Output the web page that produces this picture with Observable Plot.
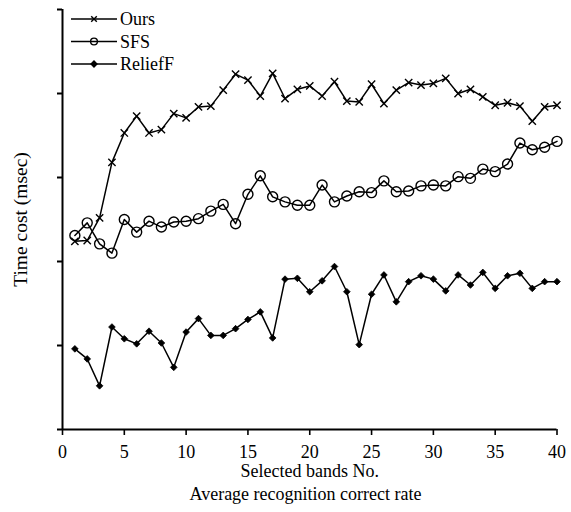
<!DOCTYPE html>
<html>
<head>
<meta charset="utf-8">
<script src="https://cdn.jsdelivr.net/npm/d3@7"></script>
<script src="https://cdn.jsdelivr.net/npm/@observablehq/plot@0.6"></script>
<style>
  html, body { margin: 0; padding: 0; background: white; }
  #wrap { position: relative; width: 571px; height: 512px; font-family: "Liberation Serif", "Times New Roman", serif; }
  #wrap svg text { font-family: "Liberation Serif", "Times New Roman", serif; }
  #caption { position: absolute; left: 40px; width: 531px; top: 484px; text-align: center; font-size: 18px; line-height: 20px; color: black; }
  #legend { position: absolute; left: 0; top: 0; }
</style>
</head>
<body>
<div id="wrap"></div>
<script>
const bands = [1,2,3,4,5,6,7,8,9,10,11,12,13,14,15,16,17,18,19,20,21,22,23,24,25,26,27,28,29,30,31,32,33,34,35,36,37,38,39,40];
const ours = [2.24,2.25,2.52,3.18,3.53,3.73,3.53,3.57,3.76,3.71,3.84,3.85,4.04,4.23,4.16,3.97,4.24,3.94,4.05,4.09,3.97,4.14,3.91,3.90,4.11,3.88,4.04,4.13,4.10,4.12,4.18,4.00,4.05,3.96,3.86,3.89,3.85,3.67,3.84,3.86];
const sfs = [2.31,2.46,2.21,2.10,2.50,2.35,2.48,2.41,2.47,2.48,2.51,2.60,2.68,2.45,2.80,3.02,2.77,2.71,2.67,2.67,2.91,2.71,2.78,2.83,2.82,2.96,2.83,2.84,2.90,2.91,2.90,3.01,2.99,3.10,3.07,3.16,3.41,3.33,3.36,3.43];
const relieff = [0.96,0.84,0.52,1.22,1.08,1.02,1.17,1.03,0.74,1.16,1.32,1.12,1.12,1.20,1.31,1.40,1.09,1.79,1.80,1.64,1.77,1.94,1.64,1.01,1.61,1.84,1.52,1.76,1.83,1.79,1.65,1.84,1.72,1.87,1.68,1.83,1.86,1.68,1.76,1.76];
const seriesNames = ["Ours", "SFS", "ReliefF"];
const xTicks = [0,5,10,15,20,25,30,35,40];
const yTicks = [0,1,2,3,4,5];
const xLabel = "Selected bands No.";
const yLabel = "Time cost (msec)";
const captionText = "Average recognition correct rate";

const toRows = (vals) => bands.map((b, i) => ({band: b, value: vals[i]}));
const oursRows = toRows(ours), sfsRows = toRows(sfs), relRows = toRows(relieff);

const FONT = "'Liberation Serif', 'Times New Roman', serif";
const plot = Plot.plot({
  width: 571,
  height: 482,
  marginLeft: 62,
  marginRight: 14.5,
  marginTop: 9,
  marginBottom: 53,
  style: {fontFamily: FONT, fontSize: "18px", background: "white", color: "black", overflow: "visible"},
  x: {domain: [0, 40], label: null},
  y: {domain: [0, 5], label: null},
  marks: [
    Plot.axisX({ticks: xTicks, tickSize: 6, tickPadding: 10, label: null, strokeWidth: 1.6, fontSize: 18}),
    Plot.axisY({ticks: yTicks, tickSize: 5, tickFormat: () => "", label: null, strokeWidth: 2}),
    Plot.ruleX([0], {stroke: "black", strokeWidth: 2}),
    Plot.ruleY([0], {stroke: "black", strokeWidth: 2}),
    Plot.line(oursRows, {x: "band", y: "value", stroke: "black", strokeWidth: 1.5}),
    Plot.dot(oursRows, {x: "band", y: "value", symbol: "times", r: 3.4, stroke: "black", strokeWidth: 1.4}),
    Plot.line(sfsRows, {x: "band", y: "value", stroke: "black", strokeWidth: 1.5}),
    Plot.dot(sfsRows, {x: "band", y: "value", symbol: "circle", r: 5, stroke: "black", fill: "none", strokeWidth: 1.4}),
    Plot.line(relRows, {x: "band", y: "value", stroke: "black", strokeWidth: 1.5}),
    Plot.dot(relRows, {x: "band", y: "value", symbol: "diamond2", r: 3, fill: "black", stroke: "black", strokeWidth: 0.8}),
    Plot.text([yLabel], {text: d => d, frameAnchor: "left", textAnchor: "middle", rotate: -90, dx: -42, lineAnchor: "middle", fontSize: 19.5, fill: "black"}),
    Plot.text([xLabel], {text: d => d, frameAnchor: "bottom", textAnchor: "middle", dy: 42, lineAnchor: "middle", fontSize: 18, fill: "black"})
  ]
});

const wrap = document.getElementById("wrap");
wrap.appendChild(plot);

// legend overlay
const symbols = [d3.symbolTimes, d3.symbolCircle, d3.symbolDiamond2];
const legend = d3.select(wrap).append("svg").attr("id", "legend").attr("width", 200).attr("height", 80);
const rowY = [19, 41.5, 64];
seriesNames.forEach((name, i) => {
  const g = legend.append("g").attr("transform", `translate(0,${rowY[i]})`);
  g.append("line").attr("x1", 71).attr("x2", 117).attr("y1", 0).attr("y2", 0).attr("stroke", "black").attr("stroke-width", 1.5);
  const sizes = [22, 36, 22];
  g.append("path").attr("transform", "translate(94,0)")
    .attr("d", d3.symbol(symbols[i], sizes[i])())
    .attr("fill", i === 2 ? "black" : "none")
    .attr("stroke", "black").attr("stroke-width", 1.4);
  g.append("text").attr("x", 120).attr("y", 0).attr("dy", "0.34em")
    .style("font-family", FONT).attr("font-size", 18).attr("fill", "black").text(name);
});

const cap = document.createElement("div");
cap.id = "caption";
cap.textContent = captionText;
wrap.appendChild(cap);
</script>
</body>
</html>
